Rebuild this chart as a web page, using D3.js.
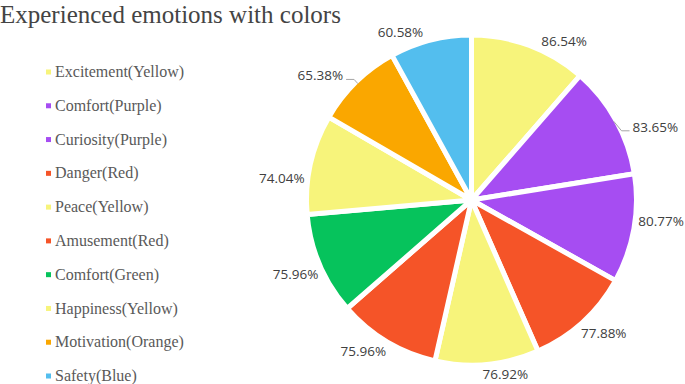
<!DOCTYPE html>
<html><head><meta charset="utf-8">
<script src="https://cdn.jsdelivr.net/npm/d3@7"></script>
<style>body{margin:0;background:#fff}svg{display:block}</style>
</head><body>
<svg id="chart" width="685" height="384"></svg>
<script>
// ---- data ----
const title = "Experienced emotions with colors";
const categories = ["Excitement(Yellow)", "Comfort(Purple)", "Curiosity(Purple)", "Danger(Red)", "Peace(Yellow)",
  "Amusement(Red)", "Comfort(Green)", "Happiness(Yellow)", "Motivation(Orange)", "Safety(Blue)"];
const values = [86.54, 83.65, 80.77, 77.88, 76.92, 75.96, 75.96, 74.04, 65.38, 60.58];
const colors = ["#F7F47B", "#A64DF2", "#A64DF2", "#F55428", "#F7F47B", "#F55428", "#06C35C", "#F7F47B", "#FAA700", "#53BEEE"];

// ---- layout (label placement tweaks, degrees, and which labels get leader lines) ----
const labelShiftDeg = [9.6, 7.3, -3.7, -2.5, -5.5, 4.8, 0.3, -6.1, -6.2, -8.6];
const leaderFlags = [false, true, false, false, false, false, false, false, true, false];

const svg = d3.select("#chart");
const cx = 471.5, cy = 200, R = 165, stroke = 5;

svg.append("text")
  .attr("x", 0).attr("y", 22.5)
  .attr("font-family", "'Liberation Serif', 'Times New Roman', serif")
  .attr("font-size", 25).attr("fill", "#444")
  .text(title);

// legend
const ly = d3.scalePoint().domain(categories).range([72, 376]);
const leg = svg.append("g").selectAll("g").data(categories).join("g")
  .attr("transform", d => `translate(0,${ly(d)})`);
leg.append("rect").attr("x", 46).attr("y", -2.5).attr("width", 5).attr("height", 5)
  .attr("fill", (d, i) => colors[i]);
leg.append("text").attr("x", 55).attr("y", 0).attr("dy", "0.32em")
  .attr("font-family", "'Liberation Serif', 'Times New Roman', serif")
  .attr("font-size", 16).attr("fill", "#595959")
  .text(d => d);

// pie
const pie = d3.pie().sort(null).value(d => d);
const arcs = pie(values);
const arc = d3.arc().innerRadius(0).outerRadius(R);
const g = svg.append("g").attr("transform", `translate(${cx},${cy})`);
g.selectAll("path").data(arcs).join("path")
  .attr("d", arc)
  .attr("fill", (d, i) => colors[i])
  .attr("stroke", "#fff").attr("stroke-width", stroke).attr("stroke-linejoin", "round");

// labels
const rVis = R - stroke / 2;
const lab = g.append("g").selectAll("text").data(arcs).join("text")
  .attr("font-family", "'Open Sans', sans-serif")
  .attr("font-size", 13.5).attr("fill", "#404040")
  .attr("text-anchor", "middle").attr("dy", "0.35em")
  .text(d => d.value.toFixed(2) + "%");

lab.each(function(d, i) {
  const w = this.getComputedTextLength();
  const h = 12;
  const mid = (d.startAngle + d.endAngle) / 2;
  const a = mid + labelShiftDeg[i] * Math.PI / 180;
  const s = Math.sin(a), c = Math.cos(a);
  const D = rVis + 5 + Math.abs(s) * w / 2 + Math.abs(c) * h / 2 + (leaderFlags[i] ? 7 : 0);
  const x = D * s, y = -D * c;
  d3.select(this).attr("x", x).attr("y", y);
  if (leaderFlags[i]) {
    const px = rVis * Math.sin(mid), py = -rVis * Math.cos(mid);
    const side = s >= 0 ? 1 : -1;
    const edge = x - side * (w / 2 + 3);
    const ly2 = y + 4;
    const elbow = edge - side * 8;
    g.append("path")
      .attr("d", `M${px},${py}L${elbow},${ly2}L${edge},${ly2}`)
      .attr("fill", "none").attr("stroke", "#A6A6A6").attr("stroke-width", 1);
  }
});
</script>
</body></html>
